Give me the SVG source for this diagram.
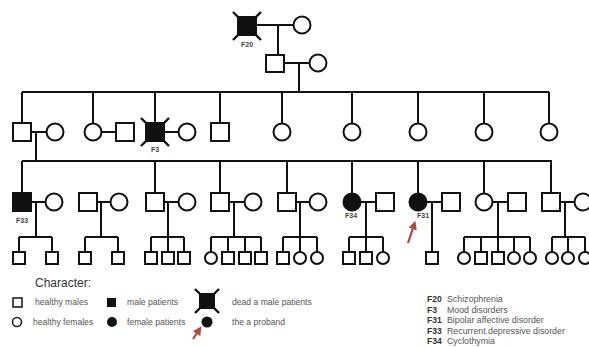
<svg xmlns="http://www.w3.org/2000/svg" width="589" height="347" viewBox="0 0 589 347">
<style>
.m{fill:#fff;stroke:#111;stroke-width:2}
.a{fill:#111;stroke:#111;stroke-width:2}
.ln{stroke:#111;stroke-width:2;fill:none}
.x{stroke:#111;stroke-width:2.4;fill:none}
.lbl{font-family:"Liberation Sans",Arial,sans-serif;font-size:7px;font-weight:bold;fill:#444;text-anchor:middle}
.lg{font-family:"Liberation Sans",Arial,sans-serif;font-size:8.6px;fill:#555}
.rg{font-family:"Liberation Sans",Arial,sans-serif;font-size:8.8px;fill:#555}
.code{font-family:"Liberation Sans",Arial,sans-serif;font-size:8.6px;font-weight:bold;fill:#333}
.arr{stroke:#b5473f;stroke-width:2.2;fill:none}
</style>
<defs>
<marker id="ah" viewBox="0 0 10 10" refX="5" refY="5" markerWidth="4" markerHeight="4" orient="auto">
<path d="M0,0 L10,5 L0,10 z" fill="#b5473f"/>
</marker>
</defs>
<g id="connectors">
<path class="ln" d="M256,25 H294 M278,25 V55"/>
<path class="ln" d="M284,63 H310 M299,63 V92"/>
<path class="ln" d="M22,92 H549 M22,92 V123 M93,92 V123 M155,92 V123 M220,92 V123 M282,92 V123 M352,92 V123 M418,92 V123 M484,92 V123 M549,92 V123"/>
<path class="ln" d="M31,132 H46 M36,132 V161 M102,132 H116 M164,132 H178"/>
<path class="ln" d="M22,161 H552 M22,161 V193 M155,161 V193 M220,161 V193 M287,161 V193 M352,161 V193 M418,161 V193 M484,161 V193 M551,161 V193"/>
<path class="ln" d="M31,202 H45 M36,202 V237 M19,237 H52 M19,237 V252 M52,237 V252"/>
<path class="ln" d="M97,202 H110 M101,202 V237 M85,237 H118 M85,237 V252 M118,237 V252"/>
<path class="ln" d="M164,202 H178 M168,202 V237 M151,237 H184 M151,237 V252 M168,237 V252 M184,237 V252"/>
<path class="ln" d="M229,202 H244 M234,202 V237 M211,237 H261 M211,237 V252 M228,237 V252 M245,237 V252 M261,237 V252"/>
<path class="ln" d="M296,202 H309 M300,202 V237 M283,237 H317 M283,237 V252 M300,237 V252 M317,237 V252"/>
<path class="ln" d="M361,202 H376 M366,202 V237 M349,237 H383 M349,237 V252 M366,237 V252 M383,237 V252"/>
<path class="ln" d="M427,202 H442 M432,202 V252"/>
<path class="ln" d="M493,202 H508 M498,202 V237 M464,237 H530 M464,237 V252 M481,237 V252 M498,237 V252 M514,237 V252 M530,237 V252"/>
<path class="ln" d="M560,202 H574 M565,202 V237 M552,237 H585 M552,237 V252 M568,237 V252 M585,237 V252"/>
</g>
<g id="I1"><rect class="a" x="238" y="17" width="18" height="18"/><path class="x" d="M233,12 L261,40 M261,12 L233,40"/><text class="lbl" x="247" y="47">F20</text></g>
<g id="I2"><circle class="m" cx="302" cy="25" r="8.5"/></g>
<g id="II1"><rect class="m" x="266" y="55" width="18" height="17"/></g>
<g id="II2"><circle class="m" cx="318" cy="63" r="8.5"/></g>
<g id="III1"><rect class="m" x="13" y="123" width="18" height="18"/></g>
<g id="III2"><circle class="m" cx="55" cy="132" r="8.5"/></g>
<g id="III3"><circle class="m" cx="93" cy="132" r="8.5"/></g>
<g id="III4"><rect class="m" x="116" y="123" width="18" height="18"/></g>
<g id="III5"><rect class="a" x="146" y="123" width="18" height="18"/><path class="x" d="M141,118 L169,146 M169,118 L141,146"/><text class="lbl" x="155" y="152">F3</text></g>
<g id="III6"><circle class="m" cx="187" cy="132" r="8.5"/></g>
<g id="III7"><rect class="m" x="211" y="123" width="18" height="18"/></g>
<g id="III8"><circle class="m" cx="282" cy="132" r="8.5"/></g>
<g id="III9"><circle class="m" cx="352" cy="132" r="8.5"/></g>
<g id="III10"><circle class="m" cx="418" cy="132" r="8.5"/></g>
<g id="III11"><circle class="m" cx="484" cy="132" r="8.5"/></g>
<g id="III12"><circle class="m" cx="549" cy="132" r="8.5"/></g>
<g id="IV1"><rect class="a" x="13" y="193" width="18" height="18"/><text class="lbl" x="22" y="223">F33</text></g>
<g id="IV2"><circle class="m" cx="54" cy="202" r="8.5"/></g>
<g id="IV3"><rect class="m" x="79" y="193" width="18" height="18"/></g>
<g id="IV4"><circle class="m" cx="119" cy="202" r="8.5"/></g>
<g id="IV5"><rect class="m" x="146" y="193" width="18" height="18"/></g>
<g id="IV6"><circle class="m" cx="187" cy="202" r="8.5"/></g>
<g id="IV7"><rect class="m" x="211" y="193" width="18" height="18"/></g>
<g id="IV8"><circle class="m" cx="253" cy="202" r="8.5"/></g>
<g id="IV9"><rect class="m" x="278" y="193" width="18" height="18"/></g>
<g id="IV10"><circle class="m" cx="318" cy="202" r="8.5"/></g>
<g id="IV11"><circle class="a" cx="352" cy="202" r="8.5"/><text class="lbl" x="351" y="218">F34</text></g>
<g id="IV12"><rect class="m" x="376" y="193" width="18" height="18"/></g>
<g id="IV13"><circle class="a" cx="418" cy="202" r="8.5"/><text class="lbl" x="423" y="218">F31</text></g>
<g id="IV14"><rect class="m" x="442" y="193" width="18" height="18"/></g>
<g id="IV15"><circle class="m" cx="484" cy="202" r="8.5"/></g>
<g id="IV16"><rect class="m" x="508" y="193" width="18" height="18"/></g>
<g id="IV17"><rect class="m" x="542" y="193" width="18" height="18"/></g>
<g id="IV18"><circle class="m" cx="583" cy="202" r="8.5"/></g>
<g id="V1"><rect class="m" x="13" y="252" width="12" height="12"/></g>
<g id="V2"><rect class="m" x="46" y="252" width="12" height="12"/></g>
<g id="V3"><rect class="m" x="79" y="252" width="12" height="12"/></g>
<g id="V4"><rect class="m" x="112" y="252" width="12" height="12"/></g>
<g id="V5"><rect class="m" x="145" y="252" width="12" height="12"/></g>
<g id="V6"><rect class="m" x="162" y="252" width="12" height="12"/></g>
<g id="V7"><rect class="m" x="178" y="252" width="12" height="12"/></g>
<g id="V8"><circle class="m" cx="211" cy="258" r="6"/></g>
<g id="V9"><rect class="m" x="222" y="252" width="12" height="12"/></g>
<g id="V10"><rect class="m" x="239" y="252" width="12" height="12"/></g>
<g id="V11"><rect class="m" x="255" y="252" width="12" height="12"/></g>
<g id="V12"><rect class="m" x="277" y="252" width="12" height="12"/></g>
<g id="V13"><circle class="m" cx="300" cy="258" r="6"/></g>
<g id="V14"><circle class="m" cx="317" cy="258" r="6"/></g>
<g id="V15"><rect class="m" x="343" y="252" width="12" height="12"/></g>
<g id="V16"><rect class="m" x="360" y="252" width="12" height="12"/></g>
<g id="V17"><circle class="m" cx="383" cy="258" r="6"/></g>
<g id="V18"><rect class="m" x="426" y="252" width="12" height="12"/></g>
<g id="V19"><circle class="m" cx="464" cy="258" r="6"/></g>
<g id="V20"><rect class="m" x="475" y="252" width="12" height="12"/></g>
<g id="V21"><rect class="m" x="492" y="252" width="12" height="12"/></g>
<g id="V22"><circle class="m" cx="514" cy="258" r="6"/></g>
<g id="V23"><circle class="m" cx="530" cy="258" r="6"/></g>
<g id="V24"><circle class="m" cx="552" cy="258" r="6"/></g>
<g id="V25"><circle class="m" cx="568" cy="258" r="6"/></g>
<g id="V26"><circle class="m" cx="585" cy="258" r="6"/></g>
<g id="proband-arrow"><path class="arr" d="M408,243 L414,225" marker-end="url(#ah)"/></g>
<g id="legend">
<text x="35" y="287" font-family="Liberation Sans, Arial, sans-serif" font-size="12" fill="#333">Character:</text>
<rect x="13" y="298" width="9" height="9" fill="#fff" stroke="#222" stroke-width="1.6"/>
<text class="lg" x="35" y="305">healthy males</text>
<rect x="107" y="298" width="9" height="9" fill="#111"/>
<text class="lg" x="127" y="305">male patients</text>
<rect x="199" y="293" width="16" height="16" fill="#111"/>
<path class="x" d="M195,289 L219,313 M219,289 L195,313"/>
<text class="lg" x="232" y="305">dead a male patients</text>
<circle cx="17" cy="322" r="4.5" fill="#fff" stroke="#222" stroke-width="1.6"/>
<text class="lg" x="33" y="325">healthy females</text>
<circle cx="112" cy="322" r="5" fill="#111"/>
<text class="lg" x="127" y="325">female patients</text>
<circle cx="207" cy="322" r="5.5" fill="#111"/>
<text class="lg" x="232" y="325">the a proband</text>
<path class="arr" d="M193,339 L199,330" marker-end="url(#ah)"/>
<text class="code" x="427" y="302">F20</text><text class="rg" x="447" y="302">Schizophrenia</text>
<text class="code" x="427" y="313">F3</text><text class="rg" x="447" y="313">Mood disorders</text>
<text class="code" x="427" y="323">F31</text><text class="rg" x="447" y="323">Bipolar affective disorder</text>
<text class="code" x="427" y="334">F33</text><text class="rg" x="447" y="334">Recurrent depressive disorder</text>
<text class="code" x="427" y="344">F34</text><text class="rg" x="447" y="344">Cyclothymia</text>
</g>
</svg>
